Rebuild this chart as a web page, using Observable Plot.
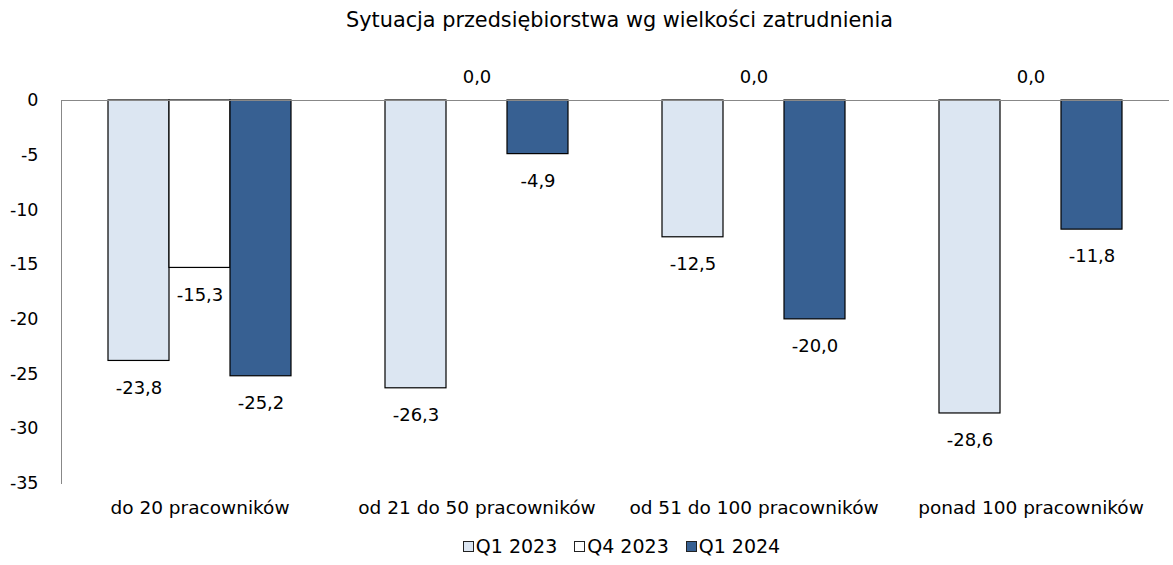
<!DOCTYPE html>
<html>
<head>
<meta charset="utf-8">
<script src="https://cdn.jsdelivr.net/npm/d3@7"></script>
<script src="https://cdn.jsdelivr.net/npm/@observablehq/plot@0.6"></script>
<style>
  body { margin: 0; background: #fff; font-family: "DejaVu Sans", sans-serif; }
  #title { height: 40px; line-height: 40px; font-size: 20.8px; text-align: center; padding-left: 66px; color: #000; }
  #legend { display: flex; justify-content: center; gap: 17px; font-size: 19px; padding-left: 70px; margin-top: 10px; }
  #legend span.item { display: inline-flex; align-items: center; }
  #legend span.sw { width: 11px; height: 11px; border: 1px solid #222; display: inline-block; margin-right: 2px; box-sizing: border-box; }
</style>
</head>
<body>
<div id="title">Sytuacja przedsiębiorstwa wg wielkości zatrudnienia</div>
<div id="chart"></div>
<div id="legend"></div>
<script>
const categories = ["do 20 pracowników", "od 21 do 50 pracowników", "od 51 do 100 pracowników", "ponad 100 pracowników"];
const seriesNames = ["Q1 2023", "Q4 2023", "Q1 2024"];
const seriesColors = ["#dce6f2", "#ffffff", "#376092"];
const q1_2023 = [-23.8, -26.3, -12.5, -28.6];
const q4_2023 = [-15.3, 0.0, 0.0, 0.0];
const q1_2024 = [-25.2, -4.9, -20.0, -11.8];
const yTicks = [0, -5, -10, -15, -20, -25, -30, -35];

const seriesValues = [q1_2023, q4_2023, q1_2024];
const data = [];
categories.forEach((c, i) => {
  seriesNames.forEach((s, j) => data.push({cat: c, series: s, value: seriesValues[j][i]}));
});
const fmt = v => v.toFixed(1).replace(".", ",");

const plot = Plot.plot({
  width: 1173,
  height: 485,
  marginTop: 60,
  marginBottom: 42,
  marginLeft: 60,
  marginRight: 3,
  style: {fontFamily: "DejaVu Sans, sans-serif", fontSize: "18.5px", color: "#000", background: "#fff"},
  fx: {domain: categories, padding: 0, axis: "bottom", tickSize: 0, tickPadding: 17, label: null},
  x: {domain: seriesNames, paddingInner: 0, paddingOuter: 0.74, axis: null},
  y: {domain: [-35, 0], ticks: yTicks, label: null},
  color: {domain: seriesNames, range: seriesColors},
  marks: [
    Plot.axisY({ticks: yTicks, tickSize: 0, tickPadding: 23, tickFormat: d => String(d), label: null, fontSize: 17.5, fill: "#000"}),
    Plot.frame({anchor: "left", stroke: "#888", facetAnchor: "left"}),
    Plot.barY(data.filter(d => d.value !== 0), {fx: "cat", x: "series", y: "value", fill: "series", stroke: "#000", strokeWidth: 1.2}),
    Plot.ruleY([0], {stroke: "#888", strokeWidth: 1}),
    Plot.text(data.filter(d => d.value !== 0), {fx: "cat", x: "series", y: "value", text: d => fmt(d.value), dy: 27, fontSize: 18}),
    Plot.text(data.filter(d => d.value === 0), {fx: "cat", x: "series", y: "value", text: d => fmt(d.value), dy: -23, fontSize: 18})
  ]
});
document.getElementById("chart").appendChild(plot);

const legend = document.getElementById("legend");
seriesNames.forEach((s, j) => {
  const item = document.createElement("span");
  item.className = "item";
  const sw = document.createElement("span");
  sw.className = "sw";
  sw.style.background = seriesColors[j];
  item.appendChild(sw);
  item.appendChild(document.createTextNode(s));
  legend.appendChild(item);
});
</script>
</body>
</html>
